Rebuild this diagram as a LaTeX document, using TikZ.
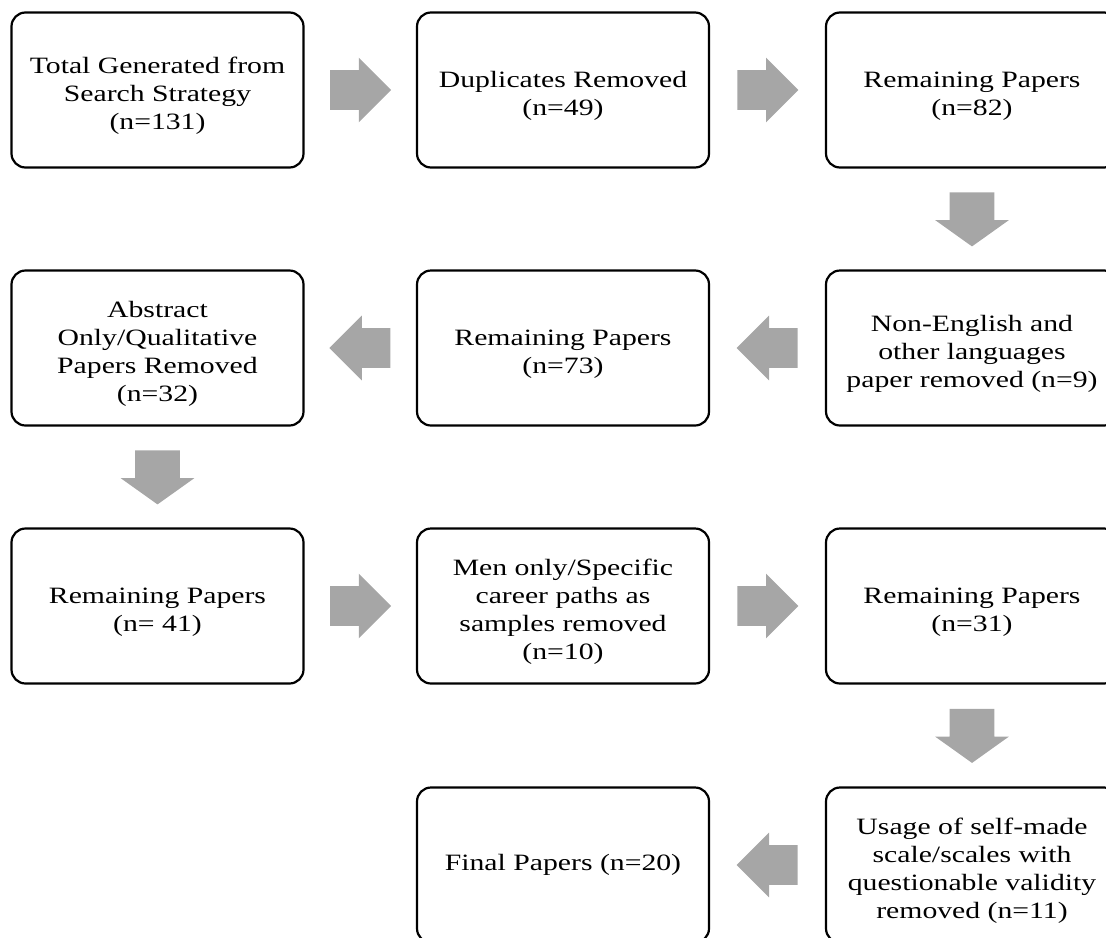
\documentclass[tikz,border=0pt]{standalone}
\usepackage{fontspec}
\setmainfont{Liberation Serif}[FakeStretch=1.27]
\usetikzlibrary{shapes.arrows,calc}
\definecolor{arrowgrey}{RGB}{166,166,166}
\newcommand{\toppad}{\rule{0pt}{13.5pt}}

\begin{document}
\begin{tikzpicture}[x={(0.5pt,0pt)}, y={(0pt,-0.5pt)},
    paperbox/.style={draw, line width=1.1pt, rounded corners=7pt, minimum width=146pt, minimum height=77.5pt, inner sep=0pt, align=center, font=\fontsize{11.7}{14}\selectfont},
    hfat/.style={single arrow, anchor=tail, fill=arrowgrey, draw=none, inner xsep=0pt, inner ysep=9.75pt, minimum height=30.5pt, single arrow head extend=6.25pt, single arrow head indent=0pt},
    vfat/.style={single arrow, anchor=tail, fill=arrowgrey, draw=none, inner xsep=0pt, inner ysep=11pt, minimum height=27pt, single arrow head extend=7.25pt, single arrow head indent=0pt, single arrow tip angle=109, rotate=-90}]

    \useasboundingbox (0,0) rectangle (1106,937);

        % first row
        \node[paperbox] (total) at (157.5,90) {\toppad Total Generated from\\Search Strategy\\(n=131)};
        \node[paperbox] (dups) at (563,90) {\toppad Duplicates Removed\\(n=49)};
        \node[paperbox] (remainA) at (972,90) {\toppad Remaining Papers\\(n=82)};

        % second row
        \node[paperbox] (lang) at (972,348) {\toppad Non-English and\\other languages\\paper removed (n=9)};
        \node[paperbox] (remainB) at (563,348) {\toppad Remaining Papers\\(n=73)};
        \node[paperbox] (abstr) at (157.5,348) {\toppad Abstract\\Only/Qualitative\\Papers Removed\\(n=32)};

        % third row
        \node[paperbox] (remainC) at (157.5,606) {\toppad Remaining Papers\\(n= 41)};
        \node[paperbox] (men) at (563,606) {\toppad Men only/Specific\\career paths as\\samples removed\\(n=10)};
        \node[paperbox] (remainD) at (972,606) {\toppad Remaining Papers\\(n=31)};

        % last row
        \node[paperbox] (selfmade) at (972,865) {\toppad Usage of self-made\\scale/scales with\\questionable validity\\removed (n=11)};
        \node[paperbox] (final) at (563,865) {Final Papers (n=20)};

        % grey arrows, tail set half a length back from the gap's middle
        \node[hfat] at ($($(total.east)!0.5!(dups.west)$)!15.25pt!(total.east)$) {};
        \node[hfat] at ($($(dups.east)!0.5!(remainA.west)$)!15.25pt!(dups.east)$) {};
        \node[vfat] at ($($(remainA.south)!0.5!(lang.north)$)!13.5pt!(remainA.south)$) {};
        \node[hfat, rotate=180] at ($($(lang.west)!0.5!(remainB.east)$)!15.25pt!(lang.west)$) {};
        \node[hfat, rotate=180] at ($($(remainB.west)!0.5!(abstr.east)$)!15.25pt!(remainB.west)$) {};
        \node[vfat] at ($($(abstr.south)!0.5!(remainC.north)$)!13.5pt!(abstr.south)$) {};
        \node[hfat] at ($($(remainC.east)!0.5!(men.west)$)!15.25pt!(remainC.east)$) {};
        \node[hfat] at ($($(men.east)!0.5!(remainD.west)$)!15.25pt!(men.east)$) {};
        \node[vfat] at ($($(remainD.south)!0.5!(selfmade.north)$)!13.5pt!(remainD.south)$) {};
        \node[hfat, rotate=180] at ($($(selfmade.west)!0.5!(final.east)$)!15.25pt!(selfmade.west)$) {};
        %\node[hfat] at (0,0) {};
\end{tikzpicture}
\end{document}
